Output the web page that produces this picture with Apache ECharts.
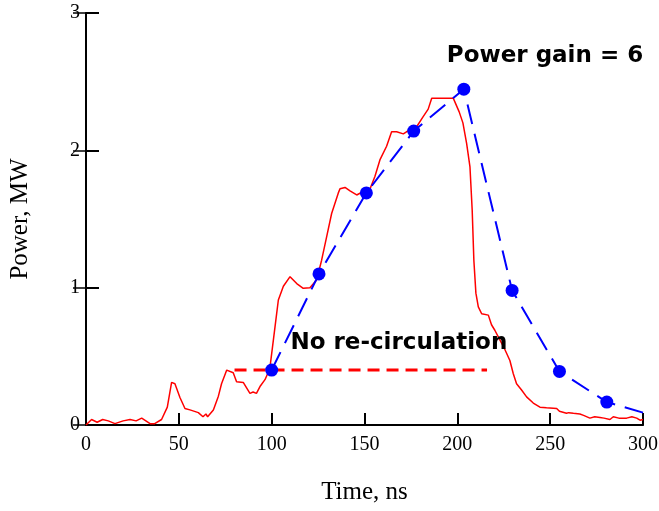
<!DOCTYPE html>
<html>
<head>
<meta charset="utf-8">
<script src="https://cdn.jsdelivr.net/npm/echarts@6/dist/echarts.min.js"></script>
<style>
  html, body { margin: 0; padding: 0; background: #fff; }
  #chart { width: 659px; height: 511px; }
</style>
</head>
<body>
<div id="chart"></div>
<script>
// Measured output power trace (time in ns, power in MW)
const measuredTime = [
  0, 3, 6, 9, 12, 15.6, 20, 23.7, 27, 30, 34.5, 37, 40.7, 43.8, 46.1, 47.9, 50.6, 53.3, 56, 60.5,
  63, 64.6, 65.5, 68.6, 71.3, 73, 75.8, 79.3, 81.1, 84.7, 86.5, 88.3, 90, 91.8, 93.7, 96.4,
  99, 101.8, 103.6, 106.3, 109.9, 113.5, 117, 120.6, 124.2, 126.9, 129.6, 132.3, 135.9, 136.8,
  139.5, 142.2, 145.8, 149.3, 153, 155.6, 158.3, 161.9, 164.6, 167.3, 170.9, 172.6, 178, 181.6,
  184.3, 186.2, 197.8, 198.7, 201, 203, 205, 206.8, 208, 208.9, 210, 211.3, 213.1, 216.7,
  218.4, 220.2, 222.9, 225.6, 228.3, 230.1, 231.9, 234.6, 237.3, 240.9, 244.5, 248, 253.5,
  255, 258.8, 260, 262.5, 266, 268, 271.4, 274, 276.8, 279, 282.2, 284, 287, 291.2, 294, 296.6,
  298.4, 300
];
const measuredPower = [
  0, 0.04, 0.02, 0.04, 0.03, 0.01, 0.03, 0.04, 0.03, 0.05, 0.01, 0.01, 0.04, 0.13, 0.31, 0.30, 0.20, 0.12, 0.11, 0.09,
  0.06, 0.08, 0.06, 0.11, 0.21, 0.30, 0.40, 0.38, 0.315, 0.31, 0.27, 0.23, 0.24, 0.23, 0.28, 0.33,
  0.41, 0.715, 0.91, 1.01, 1.08, 1.03, 0.995, 1.0, 1.055, 1.20, 1.37, 1.54, 1.69, 1.72,
  1.73, 1.705, 1.675, 1.70, 1.72, 1.81, 1.93, 2.03, 2.135, 2.135, 2.12, 2.135, 2.17, 2.245,
  2.30, 2.38, 2.38, 2.37, 2.28, 2.20, 2.05, 1.88, 1.565, 1.20, 0.96, 0.86, 0.81, 0.80,
  0.73, 0.69, 0.62, 0.55, 0.47, 0.375, 0.30, 0.255, 0.205, 0.16, 0.13, 0.125, 0.12,
  0.10, 0.085, 0.09, 0.085, 0.08, 0.07, 0.05, 0.06, 0.055, 0.05, 0.04, 0.06, 0.05, 0.05, 0.06, 0.05,
  0.035, 0.04
];

// Calculated power with re-circulation (blue points)
const calcTime  = [100, 125.5, 151, 176.5, 203.5, 229.5, 255, 280.5, 300];
const calcPower = [0.40, 1.10, 1.69, 2.14, 2.445, 0.98, 0.39, 0.167, 0.09];

// Reference level without re-circulation
const noRecircTime  = [80, 216];
const noRecircPower = [0.40, 0.40];

// Annotations
const noteText  = ['Power gain = 6', 'No re-circulation'];
const noteTime  = [247.2, 168.5];
const notePower = [2.69, 0.597];

const xTicks = { min: 0, max: 300, interval: 50 };
const yTicks = { min: 0, max: 3, interval: 1 };

const zip = (a, b) => a.map((v, i) => [v, b[i]]);

const chart = echarts.init(document.getElementById('chart'), null, { renderer: 'canvas' });

const serif = '"Liberation Serif", "Times New Roman", serif';
const note = '"DejaVu Sans", sans-serif';

chart.setOption({
  animation: false,
  backgroundColor: '#ffffff',
  grid: { left: 86, right: 16, top: 13, bottom: 86, containLabel: false, outerBoundsMode: 'none' },
  xAxis: [
    {
      type: 'value', position: 'bottom',
      min: xTicks.min, max: xTicks.max, interval: xTicks.interval,
      name: 'Time, ns', nameLocation: 'middle', nameGap: 55,
      nameTextStyle: { fontFamily: serif, fontSize: 25, color: '#000' },
      axisLine: { lineStyle: { color: '#000', width: 2 } },
      axisTick: { inside: true, length: 12, lineStyle: { color: '#000', width: 2 } },
      axisLabel: { fontFamily: serif, fontSize: 20, color: '#000', margin: 10 },
      splitLine: { show: false }
    },
    {
      type: 'value', position: 'top',
      min: xTicks.min, max: xTicks.max, interval: xTicks.interval,
      axisLine: { lineStyle: { color: '#000', width: 1.5 } },
      axisTick: { show: false }, axisLabel: { show: false }, splitLine: { show: false }
    }
  ],
  yAxis: [
    {
      type: 'value', position: 'left',
      min: yTicks.min, max: yTicks.max, interval: yTicks.interval,
      name: 'Power, MW', nameLocation: 'middle', nameGap: 53,
      nameTextStyle: { fontFamily: serif, fontSize: 25, color: '#000' },
      axisLine: { lineStyle: { color: '#000', width: 2 } },
      axisTick: { inside: true, length: 13, lineStyle: { color: '#000', width: 2 } },
      axisLabel: { fontFamily: serif, fontSize: 20, color: '#000', margin: 6 },
      splitLine: { show: false }
    },
    {
      type: 'value', position: 'right',
      min: yTicks.min, max: yTicks.max, interval: yTicks.interval,
      axisLine: { lineStyle: { color: '#000', width: 1.5 } },
      axisTick: { inside: true, length: 13, lineStyle: { color: '#000', width: 1.5 } },
      axisLabel: { show: false }, splitLine: { show: false }
    }
  ],
  series: [
    {
      name: 'measured', type: 'line', data: zip(measuredTime, measuredPower),
      showSymbol: false, symbol: 'none',
      lineStyle: { color: '#ff0000', width: 1.5 }, z: 2
    },
    {
      name: 'no re-circulation', type: 'line', data: zip(noRecircTime, noRecircPower),
      showSymbol: false, symbol: 'none',
      lineStyle: { color: '#ff0000', width: 3, type: [12, 7] }, z: 2
    },
    {
      name: 'calculated', type: 'line',
      data: zip(calcTime, calcPower).map((p, i) => (i === calcTime.length - 1
        ? { value: p, symbol: 'none' } : { value: p })),
      symbol: 'circle', symbolSize: 13, showAllSymbol: true,
      itemStyle: { color: '#0000ff' },
      lineStyle: { color: '#0000ff', width: 2, type: [20, 10] }, z: 3
    },
    {
      name: 'notes', type: 'scatter', symbolSize: 0, silent: true,
      itemStyle: { color: '#000000', opacity: 1 },
      data: noteText.map((t, i) => ({ value: [noteTime[i], notePower[i]], name: t })),
      label: {
        show: true, position: 'inside', formatter: p => p.name, opacity: 1,
        fontFamily: note, fontWeight: 'bold', fontSize: 23, color: '#000000',
        textBorderWidth: 0
      }, z: 4
    }
  ]
});
</script>
</body>
</html>
